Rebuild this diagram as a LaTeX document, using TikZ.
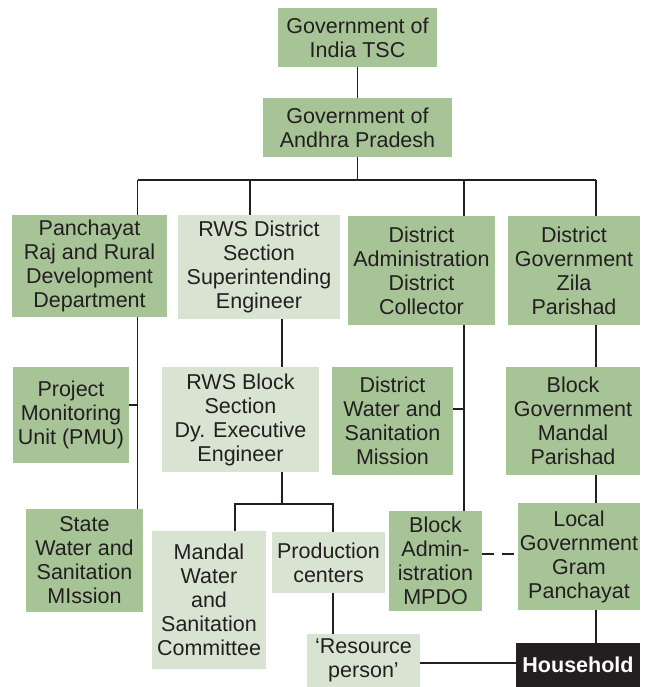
\documentclass[tikz,border=0pt]{standalone}
\usepackage{fontspec}
\setmainfont{Liberation Sans}
\usetikzlibrary{backgrounds}
\definecolor{dkgreen}{RGB}{167,196,151}
\definecolor{ltgreen}{RGB}{216,227,210}
\definecolor{ink}{RGB}{35,31,32}
\tikzset{
  box/.style={fill=dkgreen, inner sep=0pt, align=center, text=ink,
    font=\fontsize{21.5}{24}\selectfont},
  lbox/.style={box, fill=ltgreen},
  hbox/.style={box, fill=ink, text=white, font=\fontsize{21.5}{24}\selectfont\bfseries},
  conn/.style={draw=ink, line width=1.1pt},
}
\begin{document}
\begin{tikzpicture}[x=1pt,y=-1pt]
\useasboundingbox (0,0) rectangle (648,687);
\node[box, minimum width=159pt, minimum height=59pt] (gi) at (357.5,37.5) {Government of\\India TSC};
\node[box, minimum width=189pt, minimum height=59pt] (ga) at (357.5,127.5) {Government of\\Andhra Pradesh};
\node[box, minimum width=155pt, minimum height=102pt] (pr) at (89.5,266) {Panchayat\\Raj and Rural\\Development\\Department};
\node[lbox, minimum width=162pt, minimum height=104pt] (rd) at (259,267) {RWS District\\Section\\Superintending\\Engineer};
\node[box, minimum width=147pt, minimum height=109pt] (da) at (421.5,270.5) {District\\Administration\\District\\Collector};
\node[box, minimum width=132pt, minimum height=109pt] (dg) at (574,270.5) {District\\Government\\Zila\\Parishad};
\node[box, minimum width=116pt, minimum height=96pt] (pmu) at (71,415) {Project\\Monitoring\\Unit (PMU)};
\node[lbox, minimum width=157pt, minimum height=105pt] (rb) at (240.5,419.5) {RWS Block\\Section\\Dy. Executive\\Engineer};
\node[box, minimum width=121pt, minimum height=108pt] (dw) at (392.5,421) {District\\Water and\\Sanitation\\Mission};
\node[box, minimum width=134pt, minimum height=108pt] (bg) at (573,421) {Block\\Government\\Mandal\\Parishad};
\node[box, minimum width=117pt, minimum height=103pt] (sw) at (84.5,560.5) {State\\Water and\\Sanitation\\MIssion};
\node[lbox, minimum width=114pt, minimum height=138pt] (mw) at (209,600) {Mandal\\Water\\and\\Sanitation\\Committee};
\node[lbox, minimum width=113pt, minimum height=61pt] (pc) at (328.5,562.5) {Production\\centers};
\node[box, minimum width=93pt, minimum height=100pt] (ba) at (435.5,561) {Block\\Admin-\\istration\\MPDO};
\node[box, minimum width=122pt, minimum height=107pt] (lg) at (579,556.5) {Local\\Government\\Gram\\Panchayat};
\node[lbox, minimum width=113pt, minimum height=53pt] (rp) at (363.5,660.5) {‘Resource\\person’};
\node[hbox, minimum width=124pt, minimum height=44pt] (hh) at (578,665) {Household};
% bus coordinates
\coordinate (b1) at (137.5,180);
\coordinate (b2) at (250,180);
\coordinate (b3) at (464,180);
\coordinate (b4) at (596,180);
\coordinate (rbx) at (282,504);
\coordinate (mwx) at (235,504);
\coordinate (pcx) at (333,504);
\begin{pgfonlayer}{background}
\draw[conn] (gi.south) -- (ga.north);
\draw[conn] (ga.south) -- (ga.south |- b1);
\draw[conn] (b1) -- (b4);
\draw[conn] (b1) -- (b1 |- sw.north);
\draw[conn] (b2) -- (b2 |- rd.north);
\draw[conn] (b3) -- (b3 |- ba.north);
\draw[conn] (b4) -- (b4 |- dg.north);
\draw[conn] ([yshift=10pt]pmu.east) -- ([yshift=10pt]pmu.east -| b1);
\draw[conn] ([yshift=12pt]dw.east) -- ([yshift=12pt]dw.east -| b3);
\draw[conn] (b4 |- dg.south) -- (b4 |- bg.north);
\draw[conn] (b4 |- bg.south) -- (b4 |- lg.north);
\draw[conn] (b4 |- lg.south) -- (b4 |- hh.north);
\draw[conn] (rbx |- rd.south) -- (rbx |- rb.north);
\draw[conn] (rbx |- rb.south) -- (rbx);
\draw[conn] (mwx |- mw.north) -- (mwx) -- (pcx) -- (pcx |- pc.north);
\draw[conn] (pcx |- pc.south) -- (pcx |- rp.north);
\draw[conn] ([yshift=-2.5pt]rp.east) -- ([yshift=-2.5pt]rp.east -| hh.west);
\draw[conn, dash pattern=on 12pt off 8pt] ([yshift=7pt]ba.east) -- ([yshift=7pt]ba.east -| lg.west);
\end{pgfonlayer}
\end{tikzpicture}
\end{document}
